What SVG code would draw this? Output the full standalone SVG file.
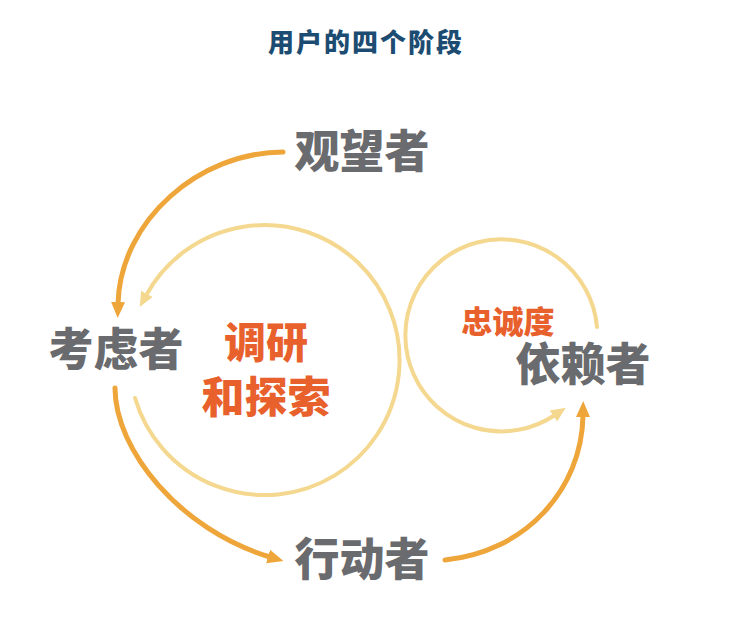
<svg xmlns="http://www.w3.org/2000/svg" width="740" height="643" viewBox="0 0 740 643">
<defs>
<style>
.t{font-family:"Noto Sans CJK SC","Noto Sans CJK JP",sans-serif;font-weight:900;text-anchor:middle}
.title{fill:#1c4c72;font-size:26px;letter-spacing:2px}
.gray{fill:#6a6b6e;font-size:45px}
.orange{fill:#e8612d}
.dark{fill:none;stroke:#eea53a;stroke-width:5;stroke-linecap:round}
.light{fill:none;stroke:#f5d890;stroke-width:4;stroke-linecap:round}
</style>
<marker id="ad" viewBox="0 0 16 16" markerWidth="16" markerHeight="16" refX="2" refY="8" orient="auto" markerUnits="userSpaceOnUse">
<path d="M0,1 L16,8 L0,15 z" fill="#eea53a"/>
</marker>
<marker id="al" viewBox="0 0 16 16" markerWidth="15" markerHeight="15" refX="2" refY="8" orient="auto" markerUnits="userSpaceOnUse">
<path d="M0,1 L16,8 L0,15 z" fill="#f5d890"/>
</marker>
</defs>
<rect width="740" height="643" fill="#ffffff"/>
<g id="title"><text class="t title" x="366" y="52">用户的四个阶段</text></g>
<g id="connectors">
<path class="light" d="M135,398 A135,135 0 1 0 146,295.5" marker-end="url(#al)"/>
<path class="light" d="M597,327 A96,96 0 1 0 555,415" marker-end="url(#al)"/>
<path class="dark" d="M283,152 C200,152 120,220 118,304" marker-end="url(#ad)"/>
<path class="dark" d="M115,388 C115,450 180,530 270,557" marker-end="url(#ad)"/>
<path class="dark" d="M445,560 C525,552 582,490 583,415" marker-end="url(#ad)"/>
</g>
<g id="observer"><text class="t gray" x="362" y="168">观望者</text></g>
<g id="considerer"><text class="t gray" x="116" y="366">考虑者</text></g>
<g id="research"><text class="t orange" x="266" y="358" font-size="42">调研</text><text class="t orange" x="266" y="413" font-size="43">和探索</text></g>
<g id="actor"><text class="t gray" x="362" y="576">行动者</text></g>
<g id="loyalty"><text class="t orange" x="508" y="333" font-size="31">忠诚度</text></g>
<g id="dependent"><text class="t gray" x="583" y="381">依赖者</text></g>
</svg>
